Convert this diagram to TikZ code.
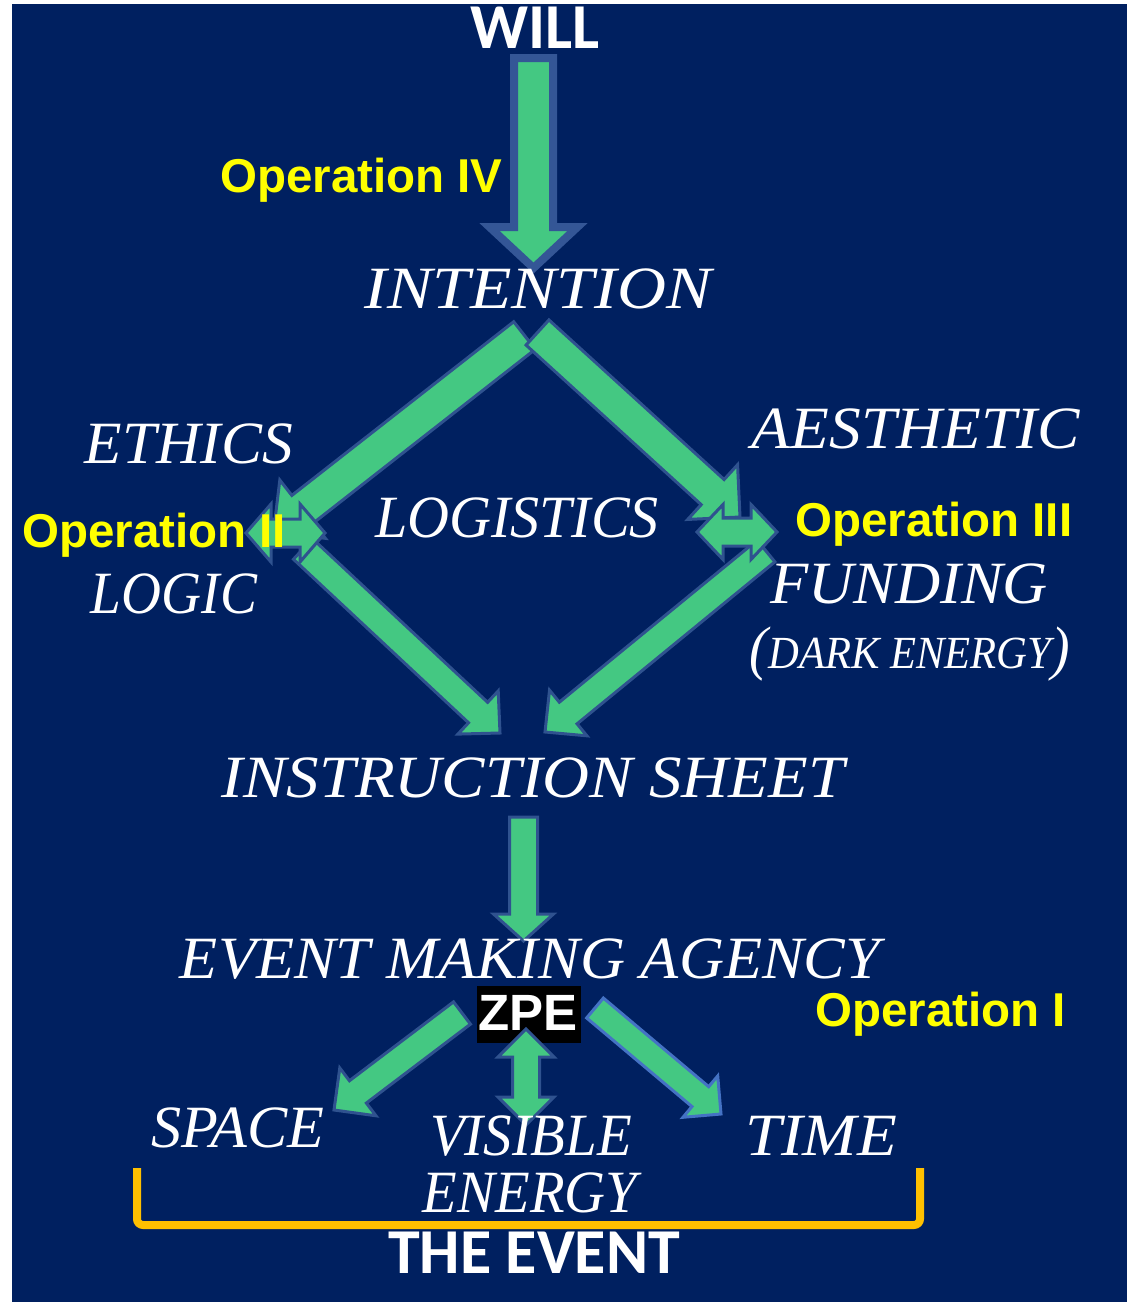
\documentclass[tikz,border=0pt]{standalone}
\usepackage{fontspec}
\usepackage{graphicx}
\usetikzlibrary{calc}
\newfontfamily\opfont{Liberation Sans}
\newfontfamily\cbfont{Carlito}
\newfontfamily\scfont{Liberation Serif}
\definecolor{navybg}{RGB}{0,32,96}
\definecolor{agreen}{RGB}{68,200,130}
\definecolor{aline}{RGB}{47,82,143}
\definecolor{alinetop}{RGB}{52,86,150}
\definecolor{alinelight}{RGB}{68,114,196}
\definecolor{opyellow}{RGB}{255,255,0}
\definecolor{brorange}{RGB}{255,192,0}
\newcommand\swt[2]{\resizebox{#1pt}{\height}{\scfont\itshape\fontsize{60}{64}\selectfont #2}}
% block arrow: [opts]{start}{end}{half shaft}{half head}{head length}
\newcommand\blockarrow[6][]{%
  \path ($(#3)!#6pt!(#2)$) coordinate (bahd);
  \draw[barrow,#1] ($(#2)!#4pt!90:(#3)$) -- ($(bahd)!#4pt!90:(#3)$) -- ($(bahd)!#5pt!90:(#3)$) -- (#3)
    -- ($(bahd)!#5pt!-90:(#3)$) -- ($(bahd)!#4pt!-90:(#3)$) -- ($(#2)!#4pt!-90:(#3)$) -- cycle;}
% double block arrow
\newcommand\dblarrow[6][]{%
  \path ($(#2)!#6pt!(#3)$) coordinate (dbA) ($(#3)!#6pt!(#2)$) coordinate (dbB);
  \draw[barrow,#1] (#2) -- ($(dbA)!#5pt!90:(#3)$) -- ($(dbA)!#4pt!90:(#3)$) -- ($(dbB)!#4pt!-90:(#2)$)
    -- ($(dbB)!#5pt!-90:(#2)$) -- (#3) -- ($(dbB)!#5pt!90:(#2)$) -- ($(dbB)!#4pt!90:(#2)$)
    -- ($(dbA)!#4pt!-90:(#3)$) -- ($(dbA)!#5pt!-90:(#3)$) -- cycle;}
\begin{document}
\begin{tikzpicture}[x=1pt,y=-1pt,
  barrow/.style={fill=agreen,draw=aline,line width=3pt,line join=miter},
  optext/.style={text=opyellow,font=\opfont\bfseries\fontsize{47.5}{52}\selectfont,inner sep=0pt,anchor=base west},
  stext/.style={text=white,inner sep=0pt,anchor=base},
  btext/.style={text=white,font=\cbfont\bfseries\fontsize{64}{68}\selectfont,inner sep=0pt,anchor=base}]
\fill[white] (0,0) rectangle (1132,1302);
\useasboundingbox (0,0) rectangle (1132,1302);
\fill[navybg] (12,4) rectangle (1127,1302);

% coordinates
\coordinate (topS) at (533.5,58);
\coordinate (topE) at (533.5,268);
\coordinate (ulS) at (524.5,335.5);
\coordinate (ulE) at (273.5,532);
\coordinate (urS) at (537.5,332.5);
\coordinate (urE) at (740,517);
\coordinate (llS) at (303,549);
\coordinate (llE) at (500,733);
\coordinate (lrS) at (766,551);
\coordinate (lrE) at (545,732);
\coordinate (d2L) at (246,533);
\coordinate (d2R) at (325,533);
\coordinate (d3L) at (697,532);
\coordinate (d3R) at (777,532);
\coordinate (inS) at (523.5,817);
\coordinate (inE) at (523.5,941);
\coordinate (spS) at (462,1013);
\coordinate (spE) at (334,1110);
\coordinate (tmS) at (595,1008);
\coordinate (tmE) at (721,1114);
\coordinate (veT) at (526,1029);
\coordinate (veB) at (526,1125);
\coordinate (brL) at (137,1168);
\coordinate (brR) at (920,1168);

% arrows
\blockarrow[line width=8pt,draw=alinetop]{topS}{topE}{19.5}{44}{41}
\blockarrow{ulS}{ulE}{17.5}{37}{37}
\blockarrow{urS}{urE}{17}{37}{37}
\blockarrow{llS}{llE}{14}{29.5}{30}
\blockarrow{lrS}{lrE}{14}{29.5}{30}
\dblarrow{d2L}{d2R}{14}{29}{25}
\dblarrow{d3L}{d3R}{14}{27.5}{26}
\blockarrow{inS}{inE}{14}{30}{27}

% ZPE
\node[fill=black,minimum width=104pt,minimum height=57pt,inner sep=0pt] (zpebox) at (529,1014.5) {};
\node[text=white,font=\opfont\bfseries\fontsize{51}{56}\selectfont,inner sep=0pt,anchor=base] (zpe) at (528,1030) {ZPE};
\blockarrow{spS}{spE}{14}{30}{30}
\blockarrow[draw=alinelight]{tmS}{tmE}{13}{27}{27}
\dblarrow{veT}{veB}{13.5}{28}{28}

% bracket
\draw[brorange,line width=8pt,rounded corners=6pt] (brL) -- (137,1225) -- (920,1225) -- (brR);

% texts
\node[btext] (will) at (535,48) {WILL};
\node[optext] (op4) at (220,192) {Operation IV};
\node[stext] (intention) at (538,308) {\swt{347}{INTENTION}};
\node[stext] (ethics) at (189,463) {\swt{208}{ETHICS}};
\node[stext] (aesthetic) at (916,448) {\swt{328}{AESTHETIC}};
\node[stext] (logistics) at (517,537) {\swt{284}{LOGISTICS}};
\node[stext] (logic) at (174,613) {\swt{166}{LOGIC}};
\node[stext] (funding) at (909,603) {\swt{278}{FUNDING}};
\node[stext] (dark) at (910,668) {\resizebox{320pt}{\height}{\scfont\itshape\fontsize{60}{64}\selectfont(\fontsize{46}{50}\selectfont DARK ENERGY\fontsize{60}{64}\selectfont)}};
\node[stext] (instr) at (533,797) {\swt{623}{INSTRUCTION SHEET}};
\node[stext] (agency) at (530,978) {\swt{700}{EVENT MAKING AGENCY}};
\node[stext] (space) at (238,1147) {\swt{173}{SPACE}};
\node[stext] (visible) at (531,1155) {\swt{202}{VISIBLE}};
\node[stext] (energy) at (530,1212) {\swt{214}{ENERGY}};
\node[stext] (time) at (821,1155) {\swt{152}{TIME}};
\node[btext] (event) at (534,1273) {THE EVENT};
\node[optext] (op2) at (22,547) {Operation II};
\node[optext] (op3) at (795,536) {Operation III};
\node[optext] (op1) at (815,1026) {Operation I};
\end{tikzpicture}
\end{document}
